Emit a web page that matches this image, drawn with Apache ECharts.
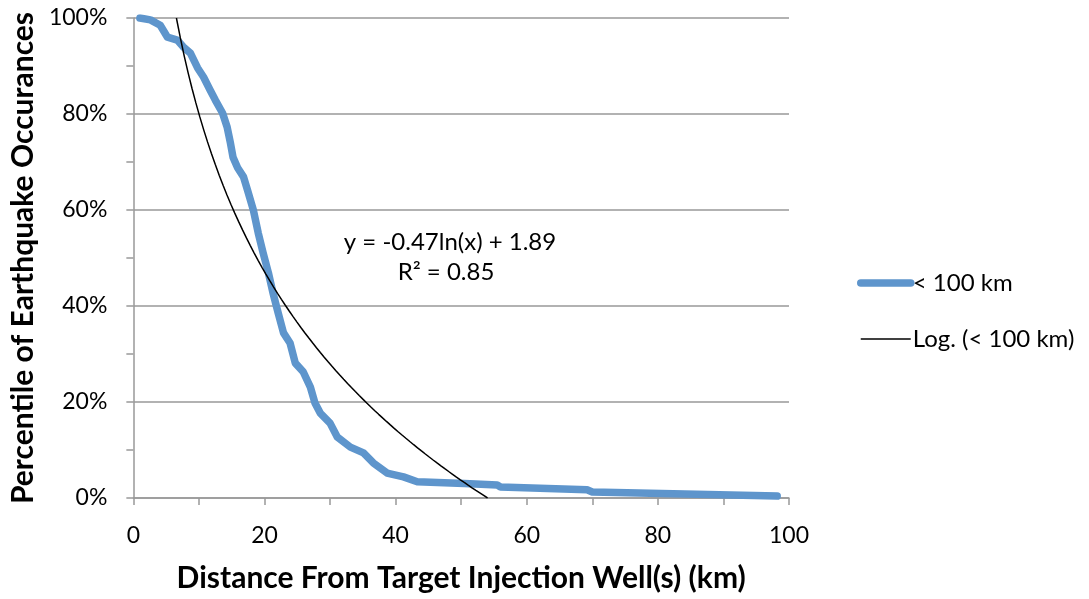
<!DOCTYPE html>
<html>
<head>
<meta charset="utf-8">
<title>Earthquake percentile vs distance</title>
<script src="https://cdn.jsdelivr.net/npm/echarts@6/dist/echarts.min.js"></script>
<style>
    html, body { margin: 0; padding: 0; background: #fff; }
    #main { width: 1089px; height: 599px; }
</style>
</head>
<body>
<div id="main"></div>
<script>
    // distance (km)
    var distances = [1.0, 2.6, 4.1, 5.2, 6.7, 7.6, 8.7, 9.8, 10.7, 11.7, 12.5, 13.6, 14.3, 14.8, 15.2, 15.9,
        16.8, 17.4, 18.3, 19.05, 19.8, 20.6, 21.3, 22.1, 22.9, 23.9, 24.7, 25.9, 27.0, 27.7, 28.5,
        30.0, 31.1, 33.1, 35.1, 36.6, 38.7, 41.2, 43.3, 50.5, 55.5, 56.0, 69.2, 70.0, 98.2];
    // percentile (fraction)
    var percentiles = [1.0, 0.996, 0.985, 0.96, 0.954, 0.94, 0.927, 0.896, 0.877, 0.85, 0.829, 0.802, 0.773, 0.74, 0.71, 0.688,
        0.669, 0.642, 0.60, 0.552, 0.51, 0.469, 0.427, 0.385, 0.344, 0.323, 0.281, 0.263, 0.231, 0.198, 0.177,
        0.156, 0.127, 0.106, 0.094, 0.073, 0.052, 0.044, 0.034, 0.030, 0.027, 0.023, 0.017, 0.0125, 0.004];

    // logarithmic trendline y = a*ln(x) + b
    var trendA = -0.4745;
    var trendB = 1.893;
    var trendLabel = ["y = -0.47ln(x) + 1.89", "R² = 0.85"];

    var xTicks = [0, 20, 40, 60, 80, 100];
    var yTicks = [0, 0.2, 0.4, 0.6, 0.8, 1.0];

    var mainData = distances.map(function (d, i) { return [d, percentiles[i]]; });

    var trendData = [];
    var xStart = Math.exp((1 - trendB) / trendA);
    var xEnd = Math.exp((0 - trendB) / trendA);
    for (var k = 0; k <= 80; k++) {
        var x = xStart + (xEnd - xStart) * k / 80;
        trendData.push([x, trendA * Math.log(x) + trendB]);
    }

    var font = "Lato";
    var blue = "#5E95CC";
    var chart = echarts.init(document.getElementById("main"));
    chart.setOption({
        animation: false,
        backgroundColor: "#fff",
        grid: { left: 133, right: 300, top: 18, bottom: 101 },
        legend: {
            orient: "vertical",
            left: 857,
            top: 271,
            padding: 0,
            itemGap: 32,
            itemWidth: 50,
            itemHeight: 24,
            itemStyle: { opacity: 0 },
            textStyle: { fontFamily: font, fontSize: 24, color: "#000", padding: [0, 0, 0, -3] },
            data: [
                { name: "< 100 km", lineStyle: { width: 7.5, cap: "round", color: blue } },
                { name: "Log. (< 100 km)", lineStyle: { width: 1.5, color: "#000" } }
            ]
        },
        xAxis: {
            type: "value",
            min: 0,
            max: 100,
            interval: 20,
            name: "Distance From Target Injection Well(s) (km)",
            nameLocation: "middle",
            nameGap: 65,
            nameTextStyle: { fontFamily: font, fontSize: 30, fontWeight: "bold", color: "#000" },
            axisLine: { lineStyle: { color: "#999", width: 1.5 } },
            axisTick: { show: true, length: 7, lineStyle: { color: "#999", width: 1.5 } },
            minorTick: { show: true, splitNumber: 2, length: 7, lineStyle: { color: "#999", width: 1.5 } },
            axisLabel: {
                margin: 26, fontFamily: font, fontSize: 23, color: "#000",
                formatter: function (v) { return xTicks.indexOf(v) >= 0 ? String(v) : ""; }
            },
            splitLine: { show: false }
        },
        yAxis: {
            type: "value",
            min: 0,
            max: 1,
            interval: 0.2,
            name: "Percentile of Earthquake Occurances",
            nameLocation: "middle",
            nameGap: 88,
            nameTextStyle: { fontFamily: font, fontSize: 30, fontWeight: "bold", color: "#000" },
            axisLine: { show: true, lineStyle: { color: "#999", width: 1.5 } },
            axisTick: { show: true, length: 7, lineStyle: { color: "#999", width: 1.5 } },
            minorTick: { show: true, splitNumber: 2, length: 7, lineStyle: { color: "#999", width: 1.5 } },
            axisLabel: {
                margin: 26, fontFamily: font, fontSize: 23, color: "#000",
                formatter: function (v) {
                    var r = Math.round(v * 10) / 10;
                    return yTicks.indexOf(r) >= 0 ? Math.round(r * 100) + "%" : "";
                }
            },
            splitLine: { show: true, lineStyle: { color: "#999", width: 1.5 } }
        },
        graphic: [
            {
                type: "text", x: 450, y: 242, z: 10,
                style: { text: trendLabel[0], fontFamily: font, fontSize: 24, fill: "#000", align: "center", verticalAlign: "middle" }
            },
            {
                type: "text", x: 446, y: 272, z: 10,
                style: { text: trendLabel[1], fontFamily: font, fontSize: 24, fill: "#000", align: "center", verticalAlign: "middle" }
            }
        ],
        series: [
            {
                name: "< 100 km",
                type: "line",
                data: mainData,
                showSymbol: false,
                symbol: "none",
                lineStyle: { color: blue, width: 7.5, cap: "round", join: "round" },
                itemStyle: { color: blue },
                z: 2
            },
            {
                name: "Log. (< 100 km)",
                type: "line",
                data: trendData,
                showSymbol: false,
                symbol: "none",
                lineStyle: { color: "#000", width: 1.5 },
                itemStyle: { color: "#000" },
                z: 3
            }
        ]
    });
</script>
</body>
</html>
